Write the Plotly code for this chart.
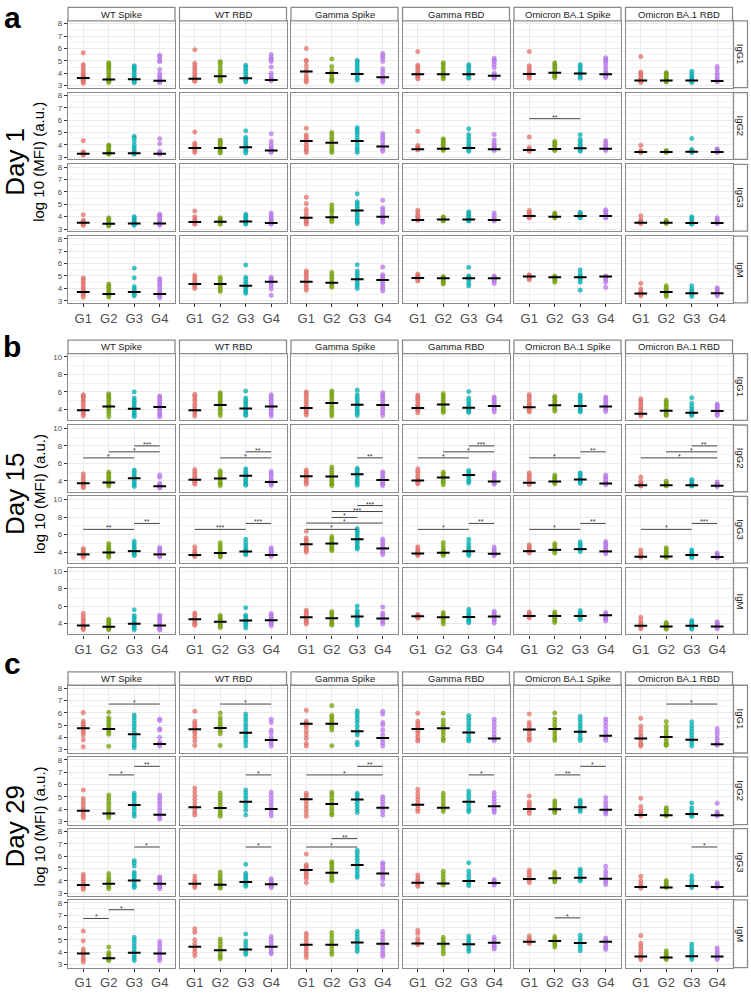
import plotly.graph_objects as go

antigens = ["WT Spike", "WT RBD", "Gamma Spike", "Gamma RBD", "Omicron BA.1 Spike", "Omicron BA.1 RBD"]
isotypes = ["IgG1", "IgG2", "IgG3", "IgM"]
groups = ["G1", "G2", "G3", "G4"]
days = ["Day 1", "Day 15", "Day 29"]
panel_tags = ["a", "b", "c"]
group_colors = ["#F8766D", "#7CAE00", "#00BFC4", "#C77CFF"]

# ---- Day 1: points per antigen, [G1, G2, G3, G4] ----
d1_igg1 = [
    [[5.65, 4.7, 4.5, 4.3, 4.1, 3.95, 3.8, 3.7, 3.6, 3.5, 3.4, 3.3, 3.2], [4.85, 4.75, 4.6, 4.45, 4.3, 4.1, 3.9, 3.7, 3.55, 3.45, 3.35, 3.25], [4.6, 4.5, 4.35, 4.2, 4.0, 3.8, 3.65, 3.5, 3.4, 3.3, 3.25], [5.45, 5.3, 5.0, 4.95, 4.3, 3.95, 3.75, 3.55, 3.4, 3.3, 3.25]],
    [[5.9, 4.8, 4.6, 4.4, 4.2, 4.0, 3.8, 3.65, 3.5, 3.4, 3.35], [4.95, 4.8, 4.55, 4.3, 4.1, 3.9, 3.75, 3.6, 3.5, 3.4, 3.35], [4.65, 4.5, 4.3, 4.1, 3.9, 3.7, 3.6, 3.5, 3.4, 3.3], [5.5, 5.25, 5.1, 4.95, 4.5, 4.0, 3.75, 3.55, 3.45, 3.4]],
    [[6.0, 5.05, 4.95, 4.6, 4.25, 4.1, 3.8, 3.6, 3.4, 3.3], [5.15, 4.55, 4.2, 4.0, 3.85, 3.6, 3.45, 3.35], [5.05, 4.9, 4.7, 4.5, 4.3, 4.1, 3.95, 3.8, 3.6, 3.45], [5.6, 5.4, 5.2, 4.95, 4.35, 4.1, 3.8, 3.6, 3.45, 3.3]],
    [[5.75, 4.65, 4.5, 4.3, 4.1, 3.95, 3.8, 3.65, 3.55], [4.85, 4.7, 4.5, 4.3, 4.1, 3.95, 3.8, 3.65, 3.55], [4.7, 4.55, 4.35, 4.15, 3.95, 3.85, 3.7, 3.6], [5.2, 5.05, 4.9, 4.7, 4.45, 4.0, 3.85, 3.7, 3.6]],
    [[5.75, 4.6, 4.4, 4.2, 4.0, 3.9, 3.75, 3.6], [4.85, 4.7, 4.55, 4.4, 4.2, 4.05, 3.9, 3.75, 3.65], [4.7, 4.55, 4.35, 4.15, 4.0, 3.85, 3.7, 3.6], [5.25, 5.1, 4.95, 4.75, 4.5, 4.25, 4.05, 3.9, 3.75, 3.65]],
    [[5.35, 4.1, 3.95, 3.8, 3.6, 3.45, 3.35, 3.25], [4.05, 3.95, 3.85, 3.7, 3.55, 3.45, 3.35, 3.3], [4.15, 3.95, 3.75, 3.6, 3.45, 3.35, 3.25], [4.55, 4.3, 4.0, 3.8, 3.55, 3.4, 3.3]],
]
d1_igg2 = [
    [[4.35, 3.45, 3.35, 3.3, 3.25, 3.2], [4.0, 3.9, 3.75, 3.6, 3.45, 3.35, 3.3, 3.25], [4.7, 4.55, 4.25, 3.95, 3.75, 3.55, 3.4, 3.3, 3.25], [4.5, 4.1, 3.5, 3.35, 3.3, 3.25]],
    [[5.05, 4.15, 4.0, 3.85, 3.7, 3.55, 3.4], [4.4, 4.3, 4.15, 4.0, 3.85, 3.7, 3.55, 3.45, 3.35], [5.15, 4.6, 4.4, 4.2, 4.0, 3.85, 3.65, 3.5, 3.35], [4.9, 4.3, 4.0, 3.8, 3.65, 3.5, 3.4]],
    [[5.35, 4.8, 4.65, 4.45, 4.2, 3.95, 3.75, 3.55, 3.4], [5.0, 4.85, 4.6, 4.4, 4.2, 3.95, 3.75, 3.55, 3.4], [5.4, 5.2, 5.0, 4.8, 4.55, 4.3, 4.05, 3.8, 3.6, 3.4], [4.93, 4.7, 4.5, 4.25, 4.0, 3.85, 3.65, 3.5]],
    [[5.1, 3.95, 3.8, 3.7, 3.6], [4.5, 4.35, 4.2, 4.05, 3.9, 3.75, 3.65, 3.55], [5.3, 4.85, 4.6, 4.35, 4.1, 3.9, 3.75, 3.6, 3.5], [4.85, 4.4, 4.15, 3.95, 3.8, 3.65, 3.55]],
    [[4.65, 3.8, 3.65, 3.55, 3.5], [4.3, 4.15, 4.0, 3.85, 3.7, 3.6, 3.55], [4.82, 4.45, 4.25, 4.05, 3.9, 3.75, 3.6, 3.5], [4.33, 4.15, 3.95, 3.8, 3.65, 3.55]],
    [[3.98, 3.55, 3.45, 3.4], [3.55, 3.5, 3.45, 3.4], [4.52, 3.65, 3.5, 3.45, 3.4], [3.7, 3.6, 3.5, 3.45, 3.4]],
]
d1_igg3 = [
    [[4.16, 3.7, 3.6, 3.5, 3.4, 3.3], [3.9, 3.8, 3.65, 3.5, 3.4, 3.3, 3.25], [4.0, 3.9, 3.75, 3.6, 3.5, 3.4, 3.3], [4.2, 4.1, 3.95, 3.8, 3.6, 3.5, 3.4, 3.3]],
    [[4.46, 4.0, 3.8, 3.65, 3.5, 3.4], [3.9, 3.8, 3.7, 3.6, 3.5, 3.4], [4.2, 4.05, 3.9, 3.75, 3.6, 3.5, 3.4], [4.3, 4.1, 3.9, 3.75, 3.6, 3.45, 3.4]],
    [[5.57, 5.05, 4.6, 4.3, 4.05, 3.85, 3.7, 3.55, 3.4], [4.95, 4.7, 4.5, 4.3, 4.0, 3.85, 3.7, 3.6], [5.84, 5.2, 5.05, 4.85, 4.65, 4.4, 4.2, 4.0, 3.8, 3.6, 3.45], [5.32, 4.7, 4.5, 4.3, 4.1, 3.9, 3.75, 3.55]],
    [[4.51, 4.3, 4.1, 3.95, 3.8, 3.7], [4.0, 3.9, 3.8, 3.7, 3.65], [4.4, 4.25, 4.1, 3.95, 3.8, 3.7, 3.65], [4.3, 4.1, 3.9, 3.75, 3.65]],
    [[4.5, 4.35, 4.2, 4.05, 3.95, 3.9], [4.3, 4.2, 4.1, 4.0, 3.9], [4.35, 4.25, 4.15, 4.05, 3.95, 3.9], [4.55, 4.4, 4.25, 4.1, 3.95, 3.9]],
    [[4.08, 3.75, 3.6, 3.5, 3.45], [3.7, 3.6, 3.55, 3.5, 3.45], [4.0, 3.85, 3.7, 3.55, 3.45, 3.4], [3.9, 3.75, 3.6, 3.5, 3.45]],
]
d1_igm = [
    [[4.84, 4.7, 4.5, 4.3, 4.1, 3.9, 3.75, 3.6, 3.45, 3.3], [4.35, 4.2, 4.05, 3.9, 3.75, 3.6, 3.45, 3.3], [5.62, 4.85, 4.15, 3.95, 3.8, 3.65, 3.5, 3.4], [4.8, 4.65, 4.45, 4.25, 4.05, 3.85, 3.65, 3.5, 3.35, 3.25]],
    [[5.05, 4.85, 4.65, 4.45, 4.3, 4.15, 4.0], [4.9, 4.7, 4.5, 4.3, 4.1, 3.9, 3.75], [5.89, 4.9, 4.7, 4.5, 4.3, 4.1, 3.9, 3.75, 3.6], [4.9, 4.75, 4.6, 4.4, 4.2, 3.95, 3.45]],
    [[5.4, 5.25, 5.05, 4.85, 4.65, 4.45, 4.25, 4.05, 3.85], [5.3, 5.1, 4.9, 4.7, 4.5, 4.35, 4.2, 4.1], [5.9, 5.4, 5.2, 5.0, 4.8, 4.6, 4.4, 4.2, 4.0], [5.73, 5.1, 4.95, 4.8, 4.6, 4.4, 4.2, 4.0, 3.8]],
    [[5.15, 5.0, 4.9, 4.8, 4.7, 4.6], [4.95, 4.85, 4.75, 4.6, 4.45, 4.35], [5.7, 5.0, 4.9, 4.8, 4.65, 4.4, 4.2], [5.0, 4.9, 4.8, 4.7, 4.55, 4.4]],
    [[5.1, 5.0, 4.9, 4.8, 4.7], [5.0, 4.9, 4.8, 4.65, 4.5], [5.49, 5.2, 5.0, 4.85, 4.7, 4.5, 3.86], [5.0, 4.95, 4.85, 4.7, 4.5, 4.08]],
    [[4.4, 3.95, 3.75, 3.6, 3.5, 3.4], [4.2, 4.05, 3.9, 3.75, 3.6, 3.45, 3.35], [4.2, 3.95, 3.8, 3.65, 3.5, 3.35], [4.05, 3.9, 3.75, 3.6, 3.5, 3.4]],
]
d1_med = [
    [[3.62, 3.5, 3.52, 3.4], [3.56, 3.76, 3.6, 3.46], [4.15, 4.02, 3.95, 3.67], [3.92, 3.92, 3.92, 3.8], [3.95, 4.04, 3.98, 3.92], [3.42, 3.42, 3.42, 3.38]],
    [[3.3, 3.33, 3.33, 3.3], [3.76, 3.75, 3.82, 3.55], [4.33, 4.17, 4.33, 3.87], [3.65, 3.7, 3.75, 3.65], [3.6, 3.68, 3.73, 3.7], [3.43, 3.43, 3.45, 3.43]],
    [[3.51, 3.43, 3.45, 3.45], [3.57, 3.6, 3.62, 3.5], [3.92, 3.95, 4.49, 4.0], [3.73, 3.78, 3.78, 3.73], [4.05, 4.0, 4.05, 4.05], [3.51, 3.51, 3.5, 3.5]],
    [[3.7, 3.54, 3.7, 3.55], [4.35, 4.35, 4.22, 4.54], [4.54, 4.46, 4.73, 4.68], [4.84, 4.81, 4.81, 4.81], [4.95, 4.9, 4.9, 4.95], [3.59, 3.7, 3.6, 3.6]],
]

# ---- Day 15 ----
d15_igg1 = [
    [[5.67, 5.5, 5.3, 5.05, 4.8, 4.5, 4.2, 3.95, 3.7, 3.45, 3.24], [5.79, 5.6, 5.4, 5.15, 4.9, 4.6, 4.35, 4.1, 3.8, 3.5, 3.16], [6.0, 5.3, 5.0, 4.75, 4.5, 4.25, 4.05, 3.8, 3.55, 3.3, 3.2], [5.52, 5.35, 5.1, 4.85, 4.6, 4.35, 4.1, 3.85, 3.6, 3.35, 3.16]],
    [[5.71, 5.5, 5.2, 4.95, 4.6, 4.3, 4.0, 3.75, 3.5, 3.24], [5.9, 5.7, 5.45, 5.2, 4.95, 4.7, 4.45, 4.15, 3.9, 3.6, 3.3], [6.1, 5.3, 5.0, 4.75, 4.5, 4.25, 4.05, 3.85, 3.6, 3.4, 3.3], [5.67, 5.45, 5.2, 4.9, 4.6, 4.35, 4.1, 3.8, 3.5, 3.24]],
    [[6.0, 5.8, 5.5, 5.2, 4.9, 4.6, 4.3, 4.05, 3.8, 3.55, 3.35], [6.1, 5.85, 5.6, 5.3, 5.0, 4.7, 4.4, 4.1, 3.8, 3.5, 3.24], [6.2, 5.7, 5.4, 5.1, 4.8, 4.55, 4.3, 4.05, 3.8, 3.55, 3.3], [5.9, 5.65, 5.4, 5.1, 4.8, 4.5, 4.2, 3.9, 3.6, 3.3]],
    [[5.63, 5.4, 5.15, 4.9, 4.6, 4.35, 4.1, 3.9, 3.62], [5.8, 5.55, 5.3, 5.05, 4.8, 4.55, 4.3, 4.05, 3.8, 3.65], [6.05, 5.3, 5.0, 4.7, 4.45, 4.2, 4.0, 3.8, 3.65], [5.4, 5.2, 4.95, 4.7, 4.45, 4.2, 3.95, 3.7]],
    [[5.7, 5.45, 5.2, 4.9, 4.6, 4.35, 4.1, 3.85, 3.7], [5.5, 5.3, 5.05, 4.8, 4.55, 4.3, 4.05, 3.8], [5.63, 5.4, 5.1, 4.8, 4.55, 4.3, 4.05, 3.85, 3.7], [5.4, 5.2, 4.95, 4.7, 4.45, 4.2, 3.95, 3.75]],
    [[5.2, 4.95, 4.7, 4.4, 4.1, 3.85, 3.6, 3.4, 3.24], [5.06, 4.85, 4.6, 4.35, 4.1, 3.85, 3.6, 3.4, 3.3], [5.33, 4.7, 4.3, 4.0, 3.75, 3.55, 3.4, 3.3], [4.6, 4.4, 4.2, 4.0, 3.8, 3.6, 3.4, 3.3]],
]
d15_igg2 = [
    [[4.8, 4.5, 4.2, 3.95, 3.7, 3.5, 3.35, 3.2], [4.99, 4.75, 4.5, 4.25, 4.0, 3.75, 3.55, 3.4], [5.22, 5.0, 4.75, 4.5, 4.3, 4.05, 3.8, 3.55, 3.35], [4.65, 4.4, 3.7, 3.5, 3.38, 3.25, 3.2]],
    [[5.29, 5.0, 4.75, 4.5, 4.25, 4.0, 3.8, 3.6], [5.14, 4.9, 4.65, 4.4, 4.15, 3.9, 3.65, 3.45], [5.37, 5.1, 4.85, 4.6, 4.35, 4.1, 3.85, 3.6, 3.5], [5.06, 4.8, 4.55, 4.2, 3.95, 3.8, 3.65, 3.5]],
    [[5.22, 5.0, 4.8, 4.55, 4.3, 4.05, 3.8, 3.6], [5.56, 5.2, 4.9, 4.6, 4.35, 4.1, 3.85, 3.6, 3.45], [5.44, 5.2, 4.95, 4.7, 4.45, 4.2, 3.95, 3.7, 3.5], [5.03, 4.8, 4.55, 4.3, 4.05, 3.8, 3.6, 3.45]],
    [[5.37, 5.1, 4.8, 4.5, 4.2, 3.95, 3.75, 3.65], [4.99, 4.75, 4.5, 4.25, 4.0, 3.8, 3.55], [5.18, 4.95, 4.7, 4.45, 4.2, 3.95, 3.75], [4.91, 4.65, 4.4, 4.15, 3.9, 3.75, 3.6]],
    [[4.91, 4.65, 4.4, 4.15, 3.9, 3.7, 3.55], [4.65, 4.4, 4.2, 4.0, 3.8, 3.65], [4.91, 4.7, 4.45, 4.2, 4.0, 3.85, 3.7], [4.65, 4.4, 4.15, 3.9, 3.7, 3.55]],
    [[4.42, 3.95, 3.7, 3.55, 3.45, 3.4], [3.96, 3.75, 3.6, 3.5, 3.4], [4.15, 3.9, 3.7, 3.55, 3.45, 3.4], [3.85, 3.65, 3.5, 3.4, 3.35]],
]
d15_igg3 = [
    [[4.42, 4.2, 4.0, 3.8, 3.65, 3.5, 3.4], [4.98, 4.7, 4.45, 4.2, 4.0, 3.8, 3.6, 3.4], [5.25, 4.95, 4.7, 4.45, 4.2, 3.95, 3.75, 3.6], [4.53, 4.3, 4.1, 3.9, 3.7, 3.55, 3.45]],
    [[4.6, 4.2, 3.95, 3.75, 3.6, 3.5], [5.06, 4.75, 4.45, 4.2, 3.95, 3.75, 3.55, 3.45], [5.47, 5.1, 4.75, 4.45, 4.2, 4.0, 3.8, 3.7], [4.49, 4.25, 4.05, 3.85, 3.7, 3.5]],
    [[6.38, 5.6, 5.35, 5.1, 4.85, 4.6, 4.4, 4.2, 4.0], [5.77, 5.5, 5.25, 5.0, 4.75, 4.5, 4.3, 4.17], [6.68, 6.45, 6.2, 5.95, 5.7, 5.45, 5.2, 4.95, 4.7, 4.5, 4.36], [5.5, 5.2, 4.95, 4.7, 4.45, 4.2, 3.95, 3.74]],
    [[4.6, 4.35, 4.1, 3.9, 3.75, 3.6], [5.09, 4.7, 4.35, 4.1, 3.9, 3.75, 3.6], [5.47, 5.05, 4.7, 4.4, 4.15, 3.95, 3.75, 3.6], [4.57, 4.3, 4.05, 3.85, 3.7, 3.6]],
    [[4.83, 4.6, 4.4, 4.2, 4.05, 3.9], [4.98, 4.75, 4.5, 4.3, 4.1, 3.9], [5.17, 4.9, 4.65, 4.45, 4.25, 4.05], [5.2, 4.95, 4.7, 4.45, 4.2, 4.0, 3.8]],
    [[4.23, 3.9, 3.65, 3.5, 3.4], [4.49, 4.25, 4.0, 3.8, 3.6, 3.45, 3.4], [4.26, 4.0, 3.8, 3.65, 3.5, 3.35], [3.89, 3.7, 3.55, 3.45, 3.35]],
]
d15_igm = [
    [[5.17, 4.8, 4.5, 4.25, 4.0, 3.8, 3.6, 3.45, 3.3], [4.49, 4.3, 4.1, 3.9, 3.7, 3.55, 3.4, 3.3], [5.58, 4.9, 4.65, 4.4, 4.15, 3.95, 3.7, 3.5, 3.3], [4.94, 4.7, 4.45, 4.2, 3.95, 3.75, 3.55, 3.35, 3.25]],
    [[5.21, 5.0, 4.75, 4.5, 4.3, 4.1, 3.9, 3.8], [4.94, 4.7, 4.5, 4.3, 4.1, 3.9, 3.7, 3.55], [5.81, 4.95, 4.75, 4.5, 4.25, 4.05, 3.8, 3.5], [5.13, 4.9, 4.7, 4.5, 4.3, 4.1, 3.95, 3.75]],
    [[5.51, 5.3, 5.05, 4.8, 4.55, 4.35, 4.1, 3.95], [5.36, 5.15, 4.9, 4.65, 4.4, 4.15, 3.95, 3.8], [6.0, 5.5, 5.25, 5.0, 4.75, 4.5, 4.25, 4.0, 3.8], [5.89, 5.2, 4.95, 4.7, 4.45, 4.2, 3.95]],
    [[5.02, 4.9, 4.8, 4.7, 4.6], [5.25, 5.0, 4.8, 4.6, 4.4, 4.2, 3.95], [5.62, 5.3, 5.0, 4.75, 4.5, 4.25, 4.1], [5.4, 5.15, 4.95, 4.75, 4.5, 4.3, 4.05]],
    [[5.32, 5.1, 4.95, 4.8, 4.65], [5.32, 5.1, 4.9, 4.7, 4.5, 4.3, 4.12], [5.47, 5.2, 5.0, 4.8, 4.6, 4.45], [5.25, 5.05, 4.9, 4.7, 4.5, 4.3]],
    [[4.72, 4.3, 4.0, 3.8, 3.6, 3.4], [4.11, 3.95, 3.8, 3.65, 3.5, 3.35], [4.34, 4.1, 3.9, 3.7, 3.55, 3.35], [4.19, 4.0, 3.85, 3.7, 3.55, 3.4]],
]
d15_med = [
    [[3.89, 4.34, 4.08, 4.27], [3.89, 4.49, 4.11, 4.34], [4.15, 4.72, 4.53, 4.49], [4.15, 4.57, 4.19, 4.38], [4.23, 4.46, 4.38, 4.34], [3.5, 3.85, 3.62, 3.81]],
    [[3.73, 3.81, 4.3, 3.38], [4.11, 4.27, 4.57, 3.85], [4.53, 4.49, 4.76, 4.08], [4.04, 4.38, 4.65, 3.92], [3.77, 3.92, 4.15, 3.7], [3.5, 3.5, 3.5, 3.43]],
    [[3.74, 3.96, 4.11, 3.74], [3.66, 3.89, 4.08, 3.66], [4.9, 4.98, 5.47, 4.42], [3.85, 3.92, 4.11, 3.81], [4.11, 4.26, 4.34, 4.08], [3.47, 3.51, 3.66, 3.43]],
    [[3.77, 3.62, 3.96, 3.77], [4.49, 4.19, 4.34, 4.38], [4.72, 4.6, 4.79, 4.57], [4.83, 4.72, 4.75, 4.79], [4.87, 4.87, 4.87, 4.94], [3.74, 3.66, 3.74, 3.66]],
]

# ---- Day 29 ----
d29_igg1 = [
    [[6.01, 5.3, 5.1, 4.95, 4.8, 4.6, 4.4, 4.2, 3.8, 3.24], [6.04, 5.6, 5.4, 5.2, 5.0, 4.8, 4.6, 4.4, 4.25, 3.28], [5.82, 5.6, 5.35, 5.1, 4.85, 4.6, 4.35, 4.1, 3.85, 3.6, 3.35, 3.16], [5.47, 5.38, 4.7, 4.6, 4.0, 3.6, 3.43, 3.3]],
    [[6.12, 5.3, 5.1, 4.9, 4.7, 4.5, 4.3, 4.0, 3.7, 3.33], [5.98, 5.6, 5.35, 5.1, 4.9, 4.7, 4.5, 4.3, 3.33], [5.9, 5.65, 5.4, 5.1, 4.85, 4.6, 4.35, 4.1, 3.85, 3.6, 3.3], [5.47, 5.2, 4.6, 4.35, 4.0, 3.75, 3.55, 3.3]],
    [[6.2, 5.3, 5.15, 5.0, 4.8, 4.5, 4.2, 3.9, 3.5, 3.3], [6.58, 5.8, 5.6, 5.4, 5.2, 5.0, 4.8, 4.6, 3.32], [6.17, 5.95, 5.7, 5.45, 5.2, 4.9, 4.6, 4.4, 4.2, 3.6, 3.4], [6.12, 5.9, 5.2, 5.0, 4.6, 4.2, 3.8, 3.55, 3.3]],
    [[5.96, 5.3, 5.1, 4.9, 4.7, 4.5, 4.3, 4.05, 3.8, 3.7], [5.96, 5.4, 5.1, 4.9, 4.7, 4.45, 4.2, 3.9, 3.72], [5.77, 5.55, 5.3, 5.05, 4.8, 4.55, 4.3, 4.05, 3.85, 3.7], [5.47, 5.2, 4.9, 4.6, 4.3, 4.0, 3.85, 3.72]],
    [[5.9, 5.2, 5.0, 4.8, 4.55, 4.3, 4.05, 3.85, 3.75], [5.98, 5.5, 5.2, 4.95, 4.7, 4.45, 4.2, 3.95, 3.75], [5.72, 5.45, 5.2, 4.95, 4.7, 4.45, 4.2, 3.95, 3.75], [5.5, 5.25, 4.95, 4.65, 4.35, 4.1, 3.9, 3.75]],
    [[5.55, 4.9, 4.6, 4.3, 4.05, 3.85, 3.6, 3.4, 3.3], [5.28, 4.9, 4.6, 4.35, 4.1, 3.85, 3.6, 3.4, 3.35], [5.26, 4.95, 4.7, 4.45, 4.2, 3.95, 3.75, 3.55, 3.3], [4.72, 4.45, 4.2, 3.9, 3.65, 3.45, 3.35]],
]
d29_igg2 = [
    [[5.55, 4.85, 4.6, 4.35, 4.1, 3.9, 3.7, 3.5, 3.3], [5.15, 4.9, 4.65, 4.4, 4.15, 3.9, 3.7, 3.5, 3.3], [5.28, 5.05, 4.85, 4.6, 4.35, 4.1, 3.85, 3.6, 3.42], [5.15, 4.9, 4.65, 4.4, 4.1, 3.85, 3.6, 3.4, 3.2]],
    [[5.72, 5.4, 5.1, 4.8, 4.5, 4.2, 3.95, 3.7, 3.52], [5.31, 5.05, 4.8, 4.55, 4.3, 4.05, 3.8, 3.6, 3.42], [5.55, 5.3, 5.05, 4.8, 4.5, 4.2, 3.9, 3.52], [5.36, 5.1, 4.8, 4.5, 4.2, 3.95, 3.7, 3.45]],
    [[5.28, 5.1, 4.9, 4.6, 4.3, 4.0, 3.7, 3.42], [5.36, 5.15, 4.9, 4.65, 4.4, 4.15, 3.9, 3.65, 3.52], [5.28, 5.1, 4.9, 4.7, 4.45, 4.2, 3.95, 3.72], [5.0, 4.8, 4.55, 4.3, 4.05, 3.8, 3.52]],
    [[5.61, 5.3, 5.0, 4.75, 4.5, 4.25, 4.0, 3.8], [5.28, 5.0, 4.75, 4.5, 4.25, 4.0, 3.8], [5.47, 5.2, 4.95, 4.7, 4.45, 4.2, 3.95, 3.78], [5.34, 5.05, 4.8, 4.55, 4.3, 4.05, 3.85, 3.72]],
    [[5.07, 4.6, 4.4, 4.2, 4.0, 3.85, 3.65], [4.68, 4.5, 4.3, 4.1, 3.95, 3.8, 3.7], [4.74, 4.55, 4.35, 4.15, 3.95, 3.8], [4.93, 4.6, 4.35, 4.1, 3.9, 3.7, 3.6]],
    [[4.88, 4.2, 3.9, 3.7, 3.55, 3.45], [4.11, 3.95, 3.8, 3.65, 3.5, 3.45], [4.49, 4.1, 3.85, 3.65, 3.5, 3.4], [4.47, 3.75, 3.6, 3.5, 3.45]],
]
d29_igg3 = [
    [[4.52, 4.3, 4.1, 3.9, 3.75, 3.6, 3.45, 3.3], [4.58, 4.3, 4.1, 3.95, 3.8, 3.65, 3.5, 3.35], [5.64, 5.45, 5.2, 4.7, 4.5, 4.3, 4.1, 3.9, 3.7, 3.55, 3.45], [4.33, 4.2, 4.05, 3.9, 3.75, 3.6, 3.5, 3.35]],
    [[4.39, 4.1, 3.9, 3.75, 3.6, 3.45], [4.71, 4.45, 4.2, 4.0, 3.8, 3.65, 3.5, 3.4], [5.34, 4.6, 4.4, 4.2, 4.0, 3.85, 3.7, 3.55], [4.17, 4.0, 3.85, 3.7, 3.55, 3.45]],
    [[6.18, 5.3, 5.15, 5.0, 4.8, 4.6, 4.4, 4.2, 3.84], [5.55, 5.4, 5.2, 5.0, 4.8, 4.6, 4.4, 4.2, 4.0], [6.48, 6.25, 6.0, 5.75, 5.5, 5.25, 5.0, 4.75, 4.5, 4.28], [5.47, 5.3, 5.1, 4.9, 4.7, 4.5, 4.3, 4.1, 3.7]],
    [[4.47, 4.2, 4.0, 3.85, 3.7, 3.55], [4.77, 4.5, 4.25, 4.0, 3.8, 3.65], [5.47, 4.8, 4.5, 4.25, 4.0, 3.8, 3.6], [4.11, 3.95, 3.85, 3.75, 3.65]],
    [[4.85, 4.65, 4.45, 4.25, 4.05, 3.85], [4.71, 4.55, 4.35, 4.15, 4.0, 3.9], [4.93, 4.75, 4.55, 4.35, 4.15, 4.0], [5.17, 4.8, 4.55, 4.3, 4.1, 3.9, 3.7]],
    [[4.36, 4.0, 3.75, 3.55, 3.4], [4.03, 3.85, 3.7, 3.55, 3.45], [4.41, 4.1, 3.9, 3.7, 3.55, 3.45], [3.82, 3.7, 3.55, 3.45]],
]
d29_igm = [
    [[5.71, 4.92, 4.25, 4.05, 3.85, 3.6, 3.4, 3.2], [4.4, 3.95, 3.8, 3.65, 3.5, 3.4, 3.3], [5.19, 4.95, 4.7, 4.45, 4.2, 3.95, 3.7, 3.5, 3.3], [4.86, 4.6, 4.35, 4.1, 3.9, 3.7, 3.5, 3.3]],
    [[5.88, 5.6, 5.0, 4.7, 4.45, 4.2, 3.95, 3.7], [5.05, 4.8, 4.55, 4.3, 4.05, 3.8, 3.6, 3.45], [5.47, 4.9, 4.65, 4.4, 4.15, 3.95, 3.8], [5.25, 5.0, 4.75, 4.5, 4.25, 4.0, 3.85]],
    [[5.52, 5.3, 5.05, 4.8, 4.55, 4.3, 4.05, 3.8, 3.55], [5.58, 5.3, 5.0, 4.75, 4.5, 4.25, 4.0, 3.8], [5.68, 5.45, 5.2, 4.95, 4.7, 4.45, 4.25, 4.05], [5.66, 5.4, 5.1, 4.85, 4.6, 4.35, 4.1, 3.85, 3.65]],
    [[5.77, 5.5, 5.1, 4.9, 4.75, 4.6], [5.19, 4.95, 4.75, 4.55, 4.35, 4.1, 3.85], [5.3, 5.05, 4.85, 4.65, 4.45, 4.25, 4.05], [5.19, 4.95, 4.75, 4.55, 4.35, 4.25]],
    [[5.3, 5.1, 4.95, 4.8, 4.7], [5.25, 5.05, 4.9, 4.75, 4.6, 4.4], [5.36, 5.1, 4.85, 4.6, 4.35, 4.1], [5.14, 4.95, 4.75, 4.55, 4.35, 4.2]],
    [[5.33, 4.7, 4.45, 4.2, 3.95, 3.75, 3.55, 3.4], [4.1, 3.9, 3.75, 3.6, 3.5, 3.4], [4.64, 4.35, 4.1, 3.9, 3.7, 3.55, 3.4], [4.32, 4.1, 3.9, 3.7, 3.55, 3.4]],
]
d29_med = [
    [[4.75, 4.69, 4.26, 3.46], [4.67, 4.77, 4.37, 3.78], [5.1, 5.1, 4.5, 3.94], [4.69, 4.75, 4.4, 3.91], [4.64, 4.69, 4.45, 4.13], [3.91, 4.02, 3.81, 3.43]],
    [[3.87, 3.65, 4.33, 3.54], [4.14, 4.09, 4.6, 4.0], [4.79, 4.41, 4.77, 4.11], [4.36, 4.11, 4.6, 4.22], [4.0, 3.98, 4.14, 3.95], [3.52, 3.49, 3.6, 3.49]],
    [[3.65, 3.76, 4.03, 3.76], [3.76, 3.68, 3.9, 3.71], [4.88, 4.66, 5.28, 4.6], [3.84, 3.79, 3.98, 3.82], [4.14, 4.2, 4.25, 4.17], [3.49, 3.46, 3.57, 3.49]],
    [[3.88, 3.49, 3.93, 3.88], [4.42, 4.15, 4.2, 4.42], [4.59, 4.59, 4.78, 4.67], [4.7, 4.67, 4.64, 4.75], [4.84, 4.89, 4.73, 4.84], [3.63, 3.55, 3.66, 3.63]],
]

# significance brackets: (day, isotype, antigen, from group, to group, y, label)
brackets = [
    (0, 1, 4, 1, 3, 6.12, "**"),
    (1, 1, 0, 1, 3, 6.62, "*"), (1, 1, 0, 2, 4, 7.31, "*"), (1, 1, 0, 3, 4, 7.99, "***"),
    (1, 1, 1, 2, 4, 6.62, "*"), (1, 1, 1, 3, 4, 7.31, "**"),
    (1, 1, 2, 3, 4, 6.62, "**"),
    (1, 1, 3, 1, 3, 6.62, "*"), (1, 1, 3, 2, 4, 7.31, "*"), (1, 1, 3, 3, 4, 7.99, "***"),
    (1, 1, 4, 1, 3, 6.62, "*"), (1, 1, 4, 3, 4, 7.31, "**"),
    (1, 1, 5, 1, 4, 6.62, "*"), (1, 1, 5, 2, 4, 7.31, "*"), (1, 1, 5, 3, 4, 7.99, "**"),
    (1, 2, 0, 1, 3, 6.6, "**"), (1, 2, 0, 3, 4, 7.28, "**"),
    (1, 2, 1, 1, 3, 6.6, "***"), (1, 2, 1, 3, 4, 7.28, "***"),
    (1, 2, 2, 1, 3, 6.6, "*"), (1, 2, 2, 1, 4, 7.32, "*"), (1, 2, 2, 2, 3, 7.96, "*"),
    (1, 2, 2, 2, 4, 8.64, "***"), (1, 2, 2, 3, 4, 9.32, "***"),
    (1, 2, 3, 1, 3, 6.6, "*"), (1, 2, 3, 3, 4, 7.28, "**"),
    (1, 2, 4, 1, 3, 6.6, "*"), (1, 2, 4, 3, 4, 7.28, "**"),
    (1, 2, 5, 1, 3, 6.6, "*"), (1, 2, 5, 3, 4, 7.28, "***"),
    (2, 0, 0, 2, 4, 6.71, "*"), (2, 0, 1, 2, 4, 6.71, "*"), (2, 0, 5, 2, 4, 6.71, "*"),
    (2, 1, 0, 2, 3, 6.78, "*"), (2, 1, 0, 3, 4, 7.48, "**"),
    (2, 1, 1, 3, 4, 6.78, "*"),
    (2, 1, 2, 1, 4, 6.78, "*"), (2, 1, 2, 3, 4, 7.48, "**"),
    (2, 1, 3, 3, 4, 6.78, "*"),
    (2, 1, 4, 2, 3, 6.78, "**"), (2, 1, 4, 3, 4, 7.48, "*"),
    (2, 2, 0, 3, 4, 6.75, "*"), (2, 2, 1, 3, 4, 6.75, "*"),
    (2, 2, 2, 1, 3, 6.75, "*"), (2, 2, 2, 2, 3, 7.43, "**"),
    (2, 2, 5, 3, 4, 6.75, "*"),
    (2, 3, 0, 1, 2, 6.73, "*"), (2, 3, 0, 2, 3, 7.44, "*"),
    (2, 3, 4, 2, 3, 6.78, "*"),
]

points = [
    [d1_igg1, d1_igg2, d1_igg3, d1_igm],
    [d15_igg1, d15_igg2, d15_igg3, d15_igm],
    [d29_igg1, d29_igg2, d29_igg3, d29_igm],
]
medians = [d1_med, d15_med, d29_med]

# page geometry (pixels)
W, H = 751, 1000
col_left = [68 + i * 111.5 for i in range(6)]
col_w = 107
row_top = [[20, 92, 164, 236], [354, 425.7, 497.3, 569], [687, 759, 831, 902.5]]
row_h = [67, 67, 68]
strip_top = [6.5, 340.5, 673.5]
y_range = [[2.84, 8.22], [2.75, 10.38], [2.73, 8.24]]
y_major = [[3, 4, 5, 6, 7, 8], [4, 6, 8, 10], [3, 4, 5, 6, 7, 8]]
y_minor = [[3.5, 4.5, 5.5, 6.5, 7.5], [3, 5, 7, 9], [3.5, 4.5, 5.5, 6.5, 7.5]]

FONT = "Arial, Liberation Sans, sans-serif"
BORDER = "#8a8a8a"


def px(x):
    return x / W


def py(y):
    return 1 - y / H


fig = go.Figure()
layout = {}
shapes = []
annots = []

for d in range(3):
    for r in range(4):
        for c in range(6):
            n = d * 24 + r * 6 + c + 1
            sx = "" if n == 1 else str(n)
            left, top = col_left[c], row_top[d][r]
            layout["xaxis" + sx] = dict(
                domain=[px(left), px(left + col_w)], anchor="y" + sx,
                range=[0.4, 4.6], tickvals=[1, 2, 3, 4], ticktext=groups,
                showticklabels=(r == 3), ticks="outside" if r == 3 else "",
                ticklen=3, tickcolor="#333333",
                tickfont=dict(size=13, color="#4d4d4d", family=FONT),
                showgrid=True, gridcolor="#ebebeb", gridwidth=1,
                showline=True, mirror=True, linecolor=BORDER, linewidth=1.3,
                zeroline=False, fixedrange=True,
            )
            layout["yaxis" + sx] = dict(
                domain=[py(top + row_h[d]), py(top)], anchor="x" + sx,
                range=y_range[d], tickvals=y_major[d],
                showticklabels=(c == 0), ticks="outside" if c == 0 else "",
                ticklen=3, tickcolor="#333333",
                tickfont=dict(size=8, color="#4d4d4d", family=FONT),
                showgrid=True, gridcolor="#ebebeb", gridwidth=1,
                minor=dict(tickvals=y_minor[d], showgrid=True, gridcolor="#f2f2f2", gridwidth=0.6),
                showline=True, mirror=True, linecolor=BORDER, linewidth=1.3,
                zeroline=False, fixedrange=True,
            )

            vals = points[d][r][c]
            xs, ys, cols = [], [], []
            for g in range(4):
                for v in vals[g]:
                    xs.append(g + 1)
                    ys.append(v)
                    cols.append(group_colors[g])
            fig.add_trace(go.Scatter(
                x=xs, y=ys, mode="markers", xaxis="x" + sx, yaxis="y" + sx,
                marker=dict(size=4.6, color=cols, opacity=0.8,
                            line=dict(width=0.4, color="rgba(60,60,60,0.45)")),
                showlegend=False, hoverinfo="y",
            ))
            mx, my = [], []
            for g in range(4):
                m = medians[d][r][c][g]
                mx += [g + 0.75, g + 1.25, None]
                my += [m, m, None]
            fig.add_trace(go.Scatter(
                x=mx, y=my, mode="lines", xaxis="x" + sx, yaxis="y" + sx,
                line=dict(color="black", width=2), showlegend=False, hoverinfo="skip",
            ))

            # column strip on first row
            if r == 0:
                shapes.append(dict(type="rect", xref="paper", yref="paper",
                                   x0=px(left), x1=px(left + col_w),
                                   y0=py(top), y1=py(strip_top[d]),
                                   fillcolor="white", line=dict(color=BORDER, width=1.3)))
                annots.append(dict(xref="paper", yref="paper", x=px(left + col_w / 2),
                                   y=py((top + strip_top[d]) / 2), text=antigens[c],
                                   xanchor="center", yanchor="middle", showarrow=False,
                                   font=dict(size=9.5, color="#1a1a1a", family=FONT)))
        # row strip on the right
        top = row_top[d][r]
        shapes.append(dict(type="rect", xref="paper", yref="paper",
                           x0=px(733.5), x1=px(747.5), y0=py(top + row_h[d]), y1=py(top),
                           fillcolor="white", line=dict(color=BORDER, width=1.3)))
        annots.append(dict(xref="paper", yref="paper", x=px(740.5), y=py(top + row_h[d] / 2),
                           text=isotypes[r], textangle=90, showarrow=False,
                           xanchor="center", yanchor="middle",
                           font=dict(size=9.5, color="#1a1a1a", family=FONT)))

    mid = (row_top[d][0] + row_top[d][3] + row_h[d]) / 2
    annots.append(dict(xref="paper", yref="paper", x=px(15), y=py(mid), text=days[d],
                       textangle=-90, showarrow=False, xanchor="center", yanchor="middle",
                       font=dict(size=26, color="black", family=FONT)))
    annots.append(dict(xref="paper", yref="paper", x=px(39), y=py(mid),
                       text="log 10 (MFI) (a.u.)", textangle=-90, showarrow=False,
                       xanchor="center", yanchor="middle",
                       font=dict(size=15, color="black", family=FONT)))
    tag_y = [17, 347, 665][d]
    annots.append(dict(xref="paper", yref="paper", x=px(12), y=py(tag_y), text="<b>%s</b>" % panel_tags[d],
                       showarrow=False, xanchor="center", yanchor="middle",
                       font=dict(size=30, color="black", family=FONT)))

for d, r, c, ga, gb, yv, lab in brackets:
    n = d * 24 + r * 6 + c + 1
    sx = "" if n == 1 else str(n)
    shapes.append(dict(type="line", xref="x" + sx, yref="y" + sx, x0=ga, x1=gb, y0=yv, y1=yv,
                       line=dict(color="#444444", width=1)))
    annots.append(dict(xref="x" + sx, yref="y" + sx, x=(ga + gb) / 2, y=yv, text=lab,
                       showarrow=False, xanchor="center", yanchor="bottom", yshift=-4,
                       font=dict(size=7, color="#333333", family=FONT)))

fig.update_layout(
    width=W, height=H, margin=dict(l=0, r=0, t=0, b=0),
    paper_bgcolor="white", plot_bgcolor="white",
    shapes=shapes, annotations=annots, **layout,
)

# the page's default 8px body margin would push the figure off the window
fig.write_html("out.html", config={"displayModeBar": False},
               post_script="document.body.style.margin='0';document.body.style.overflow='hidden';")
